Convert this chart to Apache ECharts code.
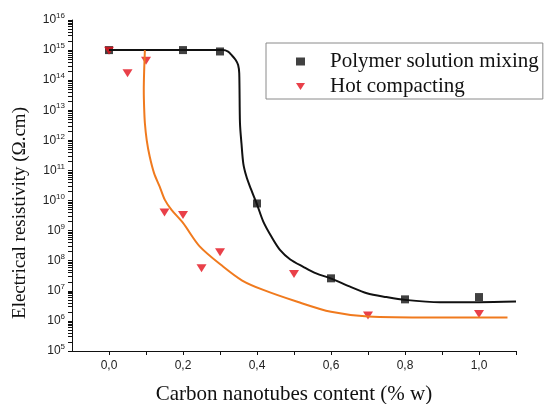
<!DOCTYPE html>
<html>
<head>
<meta charset="utf-8">
<script src="https://cdn.jsdelivr.net/npm/echarts@6/dist/echarts.min.js"></script>
<style>
  html, body { margin: 0; padding: 0; background: #fff; }
  #main { width: 545px; height: 404px; }
</style>
</head>
<body>
<div id="main"></div>
<script>
// measured points
var polymerX = [0, 0.2, 0.3, 0.4, 0.6, 0.8, 1.0];
var polymerY = [1.0e15, 1.0e15, 9.0e14, 8.0e9, 2.6e7, 5.2e6, 6.2e6];
var hotX = [0, 0.05, 0.1, 0.15, 0.2, 0.25, 0.3, 0.5, 0.7, 1.0];
var hotY = [9.5e14, 1.7e14, 4.4e14, 4.0e9, 3.3e9, 5.6e7, 1.9e8, 3.6e7, 1.5e6, 1.7e6];

// fitted curves
var fitPolymerX = [0, 0.2, 0.308, 0.322, 0.331, 0.342, 0.349, 0.352, 0.354, 0.358, 0.363, 0.371, 0.381, 0.399, 0.417, 0.44, 0.462, 0.49, 0.525, 0.56, 0.599, 0.65, 0.697, 0.75, 0.8, 0.895, 1.0, 1.1];
var fitPolymerY = [1.0e15, 1.0e15, 1.0e15, 8.9e14, 6.9e14, 4.8e14, 3.2e14, 1.7e14, 3.7e12, 8.0e11, 1.7e11, 6.5e10, 2.9e10, 8.1e9, 2.0e9, 6.0e8, 2.3e8, 1.1e8, 6.3e7, 3.8e7, 2.6e7, 1.4e7, 8.3e6, 6.2e6, 5.0e6, 4.2e6, 4.2e6, 4.4e6];
var fitHotX = [0.097, 0.095, 0.094, 0.095, 0.097, 0.102, 0.110, 0.122, 0.137, 0.151, 0.169, 0.2, 0.245, 0.309, 0.36, 0.417, 0.507, 0.6, 0.7, 0.877, 1.077];
var fitHotY = [1.0e15, 2.0e14, 4.7e13, 1.2e13, 3.7e12, 1.0e12, 2.9e11, 8.0e10, 2.9e10, 1.05e10, 4.9e9, 1.8e9, 3.0e8, 6.3e7, 2.2e7, 1.07e7, 4.4e6, 2.0e6, 1.4e6, 1.3e6, 1.3e6];

// axis ticks
var xLabels = [0, 0.2, 0.4, 0.6, 0.8, 1.0];
var xTicks = [0, 0.1, 0.2, 0.3, 0.4, 0.5, 0.6, 0.7, 0.8, 0.9, 1.0, 1.1];
var yDecades = [5, 6, 7, 8, 9, 10, 11, 12, 13, 14, 15, 16];

function pairs(xs, ys) {
    var out = [];
    for (var i = 0; i < xs.length; i++) out.push([xs[i], ys[i]]);
    return out;
}

var yLabels = yDecades.map(function (e) { return Math.pow(10, e); });
var yTicks = yLabels.slice();
for (var d = 0; d < yDecades.length - 1; d++) {
    for (var m = 2; m <= 9; m++) yTicks.push(m * Math.pow(10, yDecades[d]));
}

var serif = 'Liberation Serif';
var sans = 'Liberation Sans';

var myChart = echarts.init(document.getElementById('main'));
var option = {
    animation: false,
    grid: { left: 72, right: 29, top: 20, bottom: 53, outerBoundsMode: 'none' },
    legend: {
        orient: 'vertical',
        left: 266,
        top: 43,
        padding: [8, 4, 2, 30],
        itemGap: 4,
        itemWidth: 9,
        itemHeight: 8,
        symbolKeepAspect: true,
        borderColor: '#8a8a8a',
        borderWidth: 1,
        data: [
            { name: 'Polymer solution mixing', icon: 'rect' },
            { name: 'Hot compacting', icon: 'path://M0,0 L10,0 L5,8 Z' }
        ],
        textStyle: { fontFamily: serif, fontSize: 21, color: '#111', padding: [0, 0, 0, 20] }
    },
    xAxis: {
        type: 'value',
        min: -0.1,
        max: 1.1,
        splitLine: { show: false },
        axisLine: { show: true, onZero: false, lineStyle: { color: '#111', width: 1 } },
        axisTick: { show: true, customValues: xTicks, length: 4, lineStyle: { color: '#111' } },
        axisLabel: {
            customValues: xLabels,
            margin: 9,
            fontFamily: sans, fontSize: 12, color: '#222',
            formatter: function (v) { return v.toFixed(1).replace('.', ','); }
        },
        name: 'Carbon nanotubes content (% w)',
        nameLocation: 'middle',
        nameGap: 33,
        nameTextStyle: { fontFamily: serif, fontSize: 21, color: '#111' }
    },
    yAxis: {
        type: 'log',
        min: 1e5,
        max: 1e16,
        splitLine: { show: false },
        axisLine: { show: true, onZero: false, lineStyle: { color: '#111', width: 1 } },
        axisTick: { show: true, customValues: yTicks, length: 4, lineStyle: { color: '#111' } },
        axisLabel: {
            customValues: yLabels,
            margin: 7,
            formatter: function (v) {
                return '{b|10}{s|' + Math.round(Math.log10(v)) + '}';
            },
            rich: {
                b: { fontFamily: sans, fontSize: 12, color: '#222' },
                s: { fontFamily: sans, fontSize: 8, color: '#222', padding: [0, 0, 8, 0] }
            }
        }
    },
    graphic: [{
        type: 'text',
        x: 20,
        y: 213,
        rotation: Math.PI / 2,
        style: {
            text: 'Electrical resistivity (\u03A9.cm)',
            font: '19px "Liberation Serif"',
            fill: '#111',
            textAlign: 'center',
            textVerticalAlign: 'middle'
        }
    }],
    series: [{
        name: 'fit polymer',
        type: 'line',
        showSymbol: false,
        smooth: 0.3,
        data: pairs(fitPolymerX, fitPolymerY),
        lineStyle: { color: '#111', width: 2 }
    }, {
        name: 'fit hot',
        type: 'line',
        showSymbol: false,
        smooth: 0.3,
        data: pairs(fitHotX, fitHotY),
        lineStyle: { color: '#f07a1e', width: 2 }
    }, {
        name: 'Polymer solution mixing',
        type: 'scatter',
        symbol: 'rect',
        symbolSize: 8,
        itemStyle: { color: '#111' },
        data: pairs(polymerX, polymerY)
    }, {
        name: 'Hot compacting',
        type: 'scatter',
        symbol: 'triangle',
        symbolRotate: 180,
        symbolSize: [10, 8],
        itemStyle: { color: '#e3101c' },
        data: pairs(hotX, hotY)
    }]
};
myChart.setOption(option);
</script>
</body>
</html>
